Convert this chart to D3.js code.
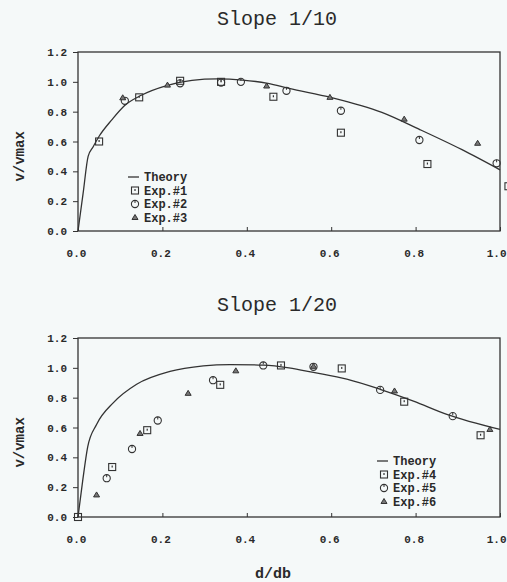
<!DOCTYPE html>
<html>
<head>
<meta charset="utf-8">
<script src="https://cdn.jsdelivr.net/npm/d3@7"></script>
<style>
  body { margin: 0; background: #f5f9f9; }
  text { font-family: "Liberation Mono", "DejaVu Sans Mono", monospace; fill: #2a2a2a; }
</style>
</head>
<body>
<div id="chart"></div>
<script>
// data
var xTicks = [0.0, 0.2, 0.4, 0.6, 0.8, 1.0];
var yTicks = [0.0, 0.2, 0.4, 0.6, 0.8, 1.0, 1.2];

// Slope 1/10
var theory1 = [[0,0],[0.012,0.25],[0.024,0.50],[0.036,0.565],[0.05,0.635],[0.08,0.745],[0.11,0.84],
  [0.15,0.91],[0.21,0.975],[0.27,1.01],[0.33,1.02],[0.39,1.012],[0.45,0.99],[0.5,0.956],
  [0.6,0.895],[0.72,0.795],[0.81,0.68],[0.91,0.545],[1.0,0.41]];
var exp1 = [[0.05,0.60],[0.145,0.896],[0.242,1.007],[0.339,1.00],[0.463,0.90],[0.623,0.659],[0.828,0.449],[1.02,0.30]];
var exp2 = [[0.111,0.873],[0.242,0.99],[0.339,0.995],[0.386,1.00],[0.494,0.94],[0.623,0.806],[0.809,0.61],[0.992,0.454]];
var exp3 = [[0.106,0.893],[0.212,0.978],[0.447,0.972],[0.597,0.896],[0.773,0.75],[0.947,0.588]];

// Slope 1/20
var theory2 = [[0,0],[0.011,0.24],[0.023,0.47],[0.044,0.62],[0.084,0.767],[0.139,0.89],[0.218,0.976],
  [0.297,1.013],[0.36,1.022],[0.439,1.018],[0.5,1.0],[0.558,0.969],[0.637,0.924],[0.716,0.856],
  [0.795,0.777],[0.874,0.688],[1.0,0.587]];
var exp4 = [[0,0],[0.081,0.335],[0.164,0.582],[0.337,0.886],[0.481,1.016],[0.625,0.996],[0.773,0.773],[0.954,0.548]];
var exp5 = [[0.068,0.26],[0.128,0.456],[0.189,0.647],[0.32,0.917],[0.439,1.016],[0.558,1.007],[0.716,0.852],[0.888,0.676]];
var exp6 = [[0.044,0.148],[0.147,0.56],[0.261,0.829],[0.374,0.98],[0.558,1.01],[0.75,0.845],[0.976,0.587]];

var W = 507, H = 582;
var ink = "#333";

var svg = d3.select("#chart").append("svg")
  .attr("width", W).attr("height", H);

svg.append("rect").attr("width", W).attr("height", H).attr("fill", "#f5f9f9");

// marker drawing
function drawMarker(g, kind, x, y) {
  if (kind == "square") {
    g.append("rect").attr("x", x - 3.5).attr("y", y - 3.5).attr("width", 7).attr("height", 7)
      .attr("fill", "none").attr("stroke", ink).attr("stroke-width", 1.1);
    g.append("rect").attr("x", x - 0.6).attr("y", y - 1.5).attr("width", 1.2).attr("height", 2)
      .attr("fill", ink);
  } else if (kind == "circle") {
    g.append("circle").attr("cx", x).attr("cy", y).attr("r", 3.6)
      .attr("fill", "none").attr("stroke", ink).attr("stroke-width", 1.1);
    g.append("line").attr("x1", x).attr("x2", x).attr("y1", y - 3.6).attr("y2", y - 1)
      .attr("stroke", ink).attr("stroke-width", 1);
  } else {
    g.append("path")
      .attr("d", "M" + x + "," + (y - 3) + "L" + (x + 3) + "," + (y + 2) + "L" + (x - 3) + "," + (y + 2) + "Z")
      .attr("fill", "#777").attr("stroke", ink).attr("stroke-width", 1);
  }
}

function drawPanel(opt) {
  var xScale = d3.scaleLinear().domain([0, 1]).range([78, 500]);
  var yScale = d3.scaleLinear().domain([0, 1.2]).range([opt.bottom, opt.top]);
  var g = svg.append("g");

  // title
  g.append("text").attr("x", 277).attr("y", opt.titleY)
    .attr("text-anchor", "middle").style("font-size", "20px")
    .text(opt.title);

  // frame
  g.append("rect").attr("x", xScale(0)).attr("y", yScale(1.2))
    .attr("width", xScale(1) - xScale(0)).attr("height", yScale(0) - yScale(1.2))
    .attr("fill", "none").attr("stroke", ink).attr("stroke-width", 1.3);

  // y axis
  var yAxis = g.append("g").attr("transform", "translate(" + xScale(0) + ",0)")
    .call(d3.axisLeft(yScale).tickValues(yTicks).tickSize(5).tickPadding(6)
      .tickFormat(d3.format(".1f")));
  yAxis.select(".domain").remove();
  yAxis.selectAll("line").attr("stroke", ink);
  yAxis.selectAll("text").style("font-size", "11px").style("font-weight", "bold")
    .attr("fill", "#2a2a2a").attr("font-family", null);

  // x axis
  var xAxis = g.append("g").attr("transform", "translate(0," + yScale(0) + ")")
    .call(d3.axisBottom(xScale).tickValues(xTicks).tickSize(-4).tickPadding(18)
      .tickFormat(d3.format(".1f")));
  xAxis.select(".domain").remove();
  xAxis.selectAll("line").attr("stroke", ink);
  xAxis.selectAll("text").style("font-size", "11px").style("font-weight", "bold")
    .attr("fill", "#2a2a2a").attr("font-family", null).attr("dx", -2);
  // last label sits at the page edge, keep it inside
  xAxis.selectAll("text").filter(function (d) { return d == 1; })
    .attr("text-anchor", "end").attr("dx", 6);

  // y label
  g.append("text")
    .attr("transform", "translate(24," + yScale(0.5) + ")rotate(-90)")
    .attr("text-anchor", "middle").style("font-size", "14px").style("font-weight", "bold")
    .text("v/vmax");

  // theory line
  var line = d3.line().x(function (d) { return xScale(d[0]); })
    .y(function (d) { return yScale(d[1]); })
    .curve(d3.curveMonotoneX);
  g.append("path").datum(opt.theory).attr("d", line)
    .attr("fill", "none").attr("stroke", ink).attr("stroke-width", 1.3);

  // experiments
  opt.series.forEach(function (s) {
    s.data.forEach(function (d) {
      drawMarker(g, s.kind, xScale(d[0]), yScale(d[1]));
    });
  });

  // legend
  var lx = opt.legendX, ly = opt.legendY;
  g.append("line").attr("x1", lx - 7).attr("x2", lx + 4).attr("y1", ly).attr("y2", ly)
    .attr("stroke", ink).attr("stroke-width", 1.3);
  g.append("text").attr("x", lx + 9).attr("y", ly + 4)
    .style("font-size", "12px").style("font-weight", "bold").text("Theory");
  opt.series.forEach(function (s, i) {
    var yy = ly + 13.5 * (i + 1);
    drawMarker(g, s.kind, lx, yy);
    g.append("text").attr("x", lx + 9).attr("y", yy + 4)
      .style("font-size", "12px").style("font-weight", "bold").text(s.name);
  });
}

drawPanel({
  title: "Slope 1/10", titleY: 25, top: 52, bottom: 231,
  theory: theory1,
  series: [
    { name: "Exp.#1", kind: "square", data: exp1 },
    { name: "Exp.#2", kind: "circle", data: exp2 },
    { name: "Exp.#3", kind: "triangle", data: exp3 }
  ],
  legendX: 135, legendY: 177
});

drawPanel({
  title: "Slope 1/20", titleY: 311, top: 338, bottom: 517,
  theory: theory2,
  series: [
    { name: "Exp.#4", kind: "square", data: exp4 },
    { name: "Exp.#5", kind: "circle", data: exp5 },
    { name: "Exp.#6", kind: "triangle", data: exp6 }
  ],
  legendX: 384, legendY: 461
});

// shared x label
svg.append("text").attr("x", 273).attr("y", 578)
  .attr("text-anchor", "middle").style("font-size", "15px").style("font-weight", "bold")
  .text("d/db");
</script>
</body>
</html>
